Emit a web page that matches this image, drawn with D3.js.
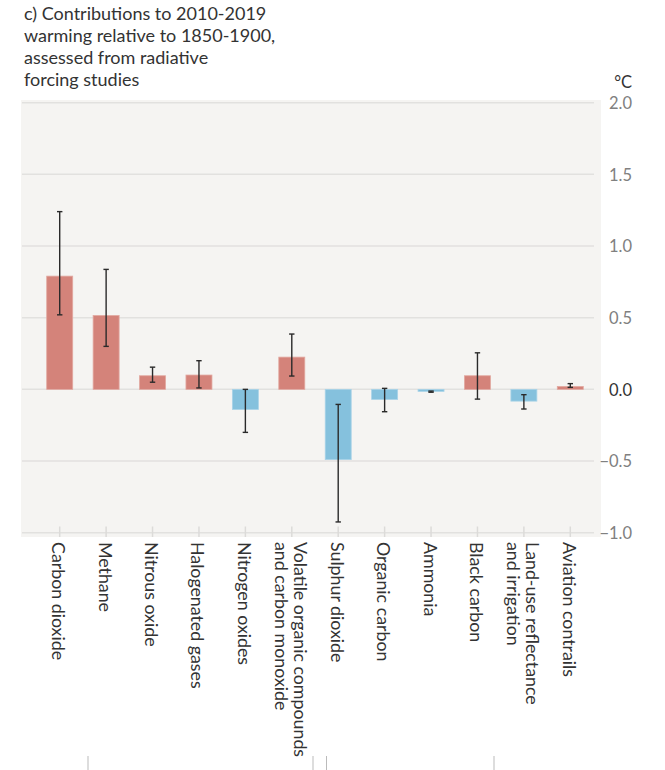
<!DOCTYPE html>
<html>
<head>
<script src="https://d3js.org/d3.v7.min.js"></script>
<style>
  body { margin: 0; background: white; }
  text { font-family: Lato, "Open Sans", sans-serif; }
  .title { font-size: 18px; fill: #333; }
  .tick-label { font-size: 16.5px; fill: #808080; }
  .cat-label { font-size: 17.8px; fill: #333; }
  .grid { stroke: #e2e1df; stroke-width: 1.5px; }
</style>
</head>
<body>
<svg id="chart" width="665" height="770"></svg>
<script>
  // data
  const categories = ["Carbon dioxide", "Methane", "Nitrous oxide", "Halogenated gases", "Nitrogen oxides",
    "Volatile organic compounds|and carbon monoxide", "Sulphur dioxide", "Organic carbon", "Ammonia",
    "Black carbon", "Land-use reflectance|and irrigation", "Aviation contrails"];
  const best  = [0.79, 0.515, 0.095, 0.10, -0.14, 0.225, -0.49, -0.07, -0.014, 0.095, -0.082, 0.02];
  const low   = [0.52, 0.30, 0.05, 0.01, -0.30, 0.093, -0.925, -0.156, -0.02, -0.068, -0.137, 0.014];
  const high  = [1.24, 0.837, 0.155, 0.20, 0.0, 0.386, -0.105, 0.007, -0.012, 0.255, -0.037, 0.04];
  const yTicks = [2.0, 1.5, 1.0, 0.5, 0.0, -0.5, -1.0];
  const titleLines = ["c) Contributions to 2010-2019", "warming relative to 1850-1900,",
    "assessed from radiative", "forcing studies"];

  const svg = d3.select("#chart");
  const data = categories.map((c, i) => ({ name: c, v: best[i], lo: low[i], hi: high[i] }));

  const y = d3.scaleLinear().domain([-1, 2]).range([532.7, 102.7]);
  const x = d3.scaleBand().domain(categories).range([36.5, 593.5])
              .paddingInner(0.44).paddingOuter(0.22);

  // title
  svg.append("text").attr("class", "title")
    .selectAll("tspan").data(titleLines).join("tspan")
    .attr("x", 24).attr("y", (d, i) => 20 + i * 22)
    .text(d => d);

  // plot background
  svg.append("rect")
    .attr("x", 21).attr("y", 100)
    .attr("width", 580).attr("height", 437)
    .attr("fill", "#f5f4f2");

  // gridlines
  svg.append("g").selectAll("line").data(yTicks).join("line")
    .attr("class", "grid")
    .attr("x1", 22).attr("x2", 594)
    .attr("y1", d => y(d)).attr("y2", d => y(d));

  // right axis labels
  const rightAxis = d3.axisRight(y).tickValues(yTicks).tickSize(0).tickFormat(d3.format(".1f"));
  const ax = svg.append("g").attr("transform", "translate(632,0)").call(rightAxis);
  ax.select(".domain").remove();
  ax.selectAll("text")
    .attr("class", "tick-label")
    .attr("x", 0).attr("dy", "0.35em")
    .attr("text-anchor", "end")
    .style("font-family", "Lato, sans-serif")
    .style("fill", d => d === 0 ? "#333" : "#808080");
  svg.append("text").attr("class", "tick-label")
    .attr("x", 632).attr("y", 88).attr("text-anchor", "end")
    .style("fill", "#333").text("°C");

  // bottom ticks
  svg.append("g").selectAll("line").data(categories).join("line")
    .attr("x1", d => x(d) + x.bandwidth() / 2).attr("x2", d => x(d) + x.bandwidth() / 2)
    .attr("y1", 526.5).attr("y2", 537)
    .attr("stroke", "#dcdbd9").attr("stroke-width", 1.5);

  // bars
  svg.append("g").selectAll("rect").data(data).join("rect")
    .attr("x", d => x(d.name))
    .attr("width", x.bandwidth())
    .attr("y", d => y(Math.max(0, d.v)))
    .attr("height", d => Math.abs(y(d.v) - y(0)))
    .attr("fill", d => d.v >= 0 ? "#d4837a" : "#85c1dd")
    .attr("stroke", d => d.v >= 0 ? "#e2a8a0" : "#a9d3e8")
    .attr("stroke-width", 0.8);

  // error bars
  const err = svg.append("g").attr("stroke", "#2a2a2a").attr("stroke-width", 1.4);
  const cx = d => x(d.name) + x.bandwidth() / 2;
  err.selectAll("line.v").data(data).join("line").attr("class", "v")
    .attr("x1", cx).attr("x2", cx)
    .attr("y1", d => y(d.lo)).attr("y2", d => y(d.hi));
  err.selectAll("line.lo").data(data).join("line").attr("class", "lo")
    .attr("x1", d => cx(d) - 2.7).attr("x2", d => cx(d) + 2.7)
    .attr("y1", d => y(d.lo)).attr("y2", d => y(d.lo));
  err.selectAll("line.hi").data(data).join("line").attr("class", "hi")
    .attr("x1", d => cx(d) - 2.7).attr("x2", d => cx(d) + 2.7)
    .attr("y1", d => y(d.hi)).attr("y2", d => y(d.hi));

  // category labels, rotated
  const labels = svg.append("g").selectAll("text").data(categories).join("text")
    .attr("class", "cat-label")
    .attr("transform", d => `translate(${x(d) + x.bandwidth() / 2},542) rotate(90)`);
  labels.each(function(d) {
    const lines = d.split("|");
    const t = d3.select(this);
    lines.forEach((ln, i) => {
      const off = lines.length === 1 ? 0.42 : (i === 0 ? -0.1 : 1.03);
      t.append("tspan").attr("x", 0).attr("dy", (i === 0 ? off : 1.03) + "em").text(ln);
    });
  });

  // cut-off bracket lines at the bottom
  const stubs = [88, 313, 326.5, 494];
  svg.append("g").selectAll("line").data(stubs).join("line")
    .attr("x1", d => d).attr("x2", d => d)
    .attr("y1", 756).attr("y2", 770)
    .attr("stroke", "#bbb").attr("stroke-width", 1);
</script>
</body>
</html>
